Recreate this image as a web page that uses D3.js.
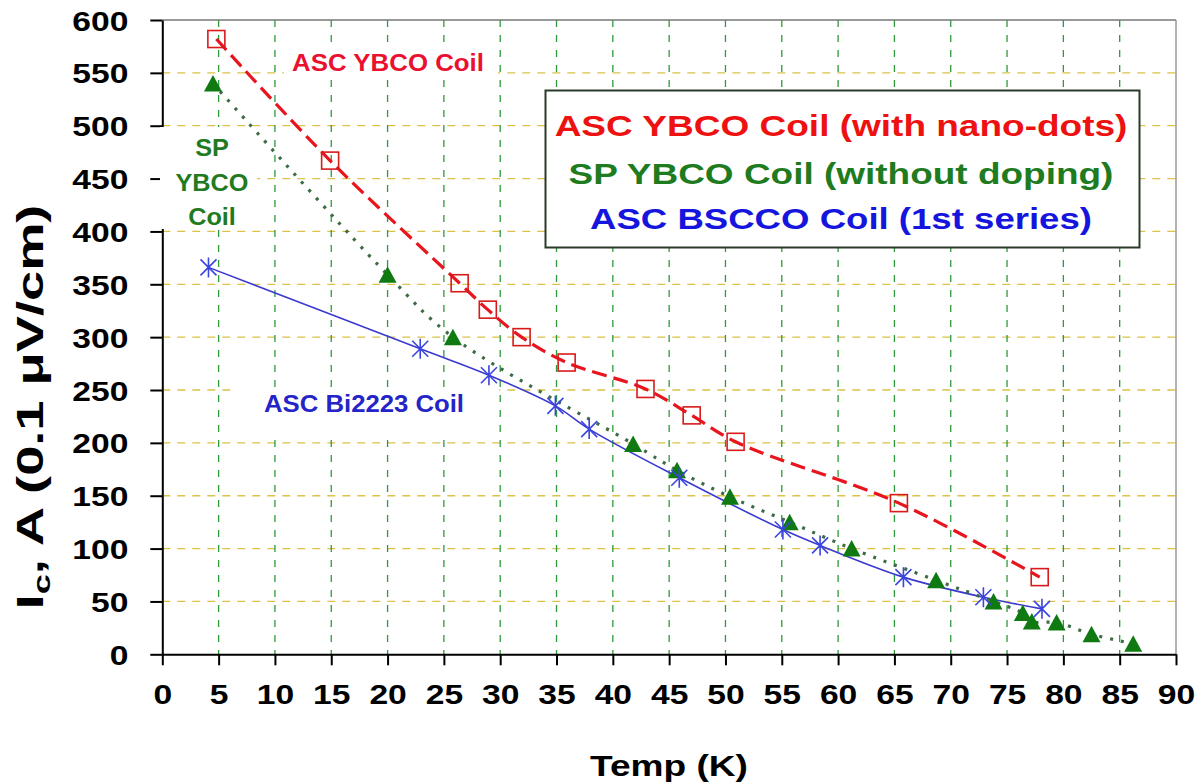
<!DOCTYPE html>
<html><head><meta charset="utf-8">
<script src="https://cdn.jsdelivr.net/npm/d3@7"></script>
<style>
body{margin:0;background:#fff}
svg{display:block}
text{font-family:"Liberation Sans", Arial, sans-serif}
</style>
</head><body><svg id="c" width="1203" height="784"></svg>
<script>
// ---- data ----
const ascYbcoTemp = [4.8, 14.9, 26.4, 28.9, 31.9, 35.9, 42.9, 47.0, 50.9, 65.4, 77.9];
const ascYbcoIc   = [582, 467, 351, 326, 300, 276, 251, 226, 201, 143, 73];
const spYbcoTemp  = [4.5, 20.0, 25.8, 41.8, 45.7, 50.4, 55.7, 61.2, 68.7, 73.8, 76.4, 77.2, 79.4, 82.5, 86.2];
const spYbcoIc    = [540, 359, 300, 199, 174, 149, 125, 100, 70, 50, 39, 31, 30, 19, 10];
const bsccoTemp   = [4.1, 22.9, 29.0, 34.9, 37.9, 45.9, 55.1, 58.4, 65.8, 72.9, 78.1];
const bsccoIc     = [366, 289, 264, 235, 213, 167, 118, 103, 73, 54, 43];
const xTickValues = [0,5,10,15,20,25,30,35,40,45,50,55,60,65,70,75,80,85,90];
const yTickValues = [0,50,100,150,200,250,300,350,400,450,500,550,600];
const legendLabels = ["ASC YBCO Coil (with nano-dots)", "SP YBCO Coil (without doping)", "ASC BSCCO Coil (1st series)"];
const xTitle = "Temp (K)";

const svg = d3.select("#c");
const x = d3.scaleLinear().domain([0, 90]).range([162.3, 1176]);
const y = d3.scaleLinear().domain([0, 600]).range([654.3, 20]);
const SX = 1.2;

function fitText(g, str, cx, base, width, size, color) {
  const t = g.append("text").text(str).attr("font-size", size).attr("font-weight", "bold")
    .attr("fill", color).attr("text-anchor", "middle");
  const w = t.node().getComputedTextLength();
  t.attr("transform", `translate(${cx},${base}) scale(${width / w},1)`);
  return width / w;
}

// grid
const grid = svg.append("g");
grid.selectAll("line.h").data(yTickValues.filter(v => v > 0 && v < 600)).join("line")
  .attr("x1", x(0)).attr("x2", x(90)).attr("y1", d => y(d)).attr("y2", d => y(d))
  .attr("stroke", "#dcc24a").attr("stroke-width", 1.3).attr("stroke-dasharray", "8,7");
grid.selectAll("line.v").data(xTickValues.filter(v => v > 0 && v < 90)).join("line")
  .attr("x1", d => x(d)).attr("x2", d => x(d)).attr("y1", y(600)).attr("y2", y(0))
  .attr("stroke", "#2f9a3a").attr("stroke-width", 1.3).attr("stroke-dasharray", "7,8");

// frame (top / right)
svg.append("line").attr("x1", x(0)).attr("x2", x(90)).attr("y1", y(600)).attr("y2", y(600))
  .attr("stroke", "#777").attr("stroke-width", 1.5);
svg.append("line").attr("x1", x(90)).attr("x2", x(90)).attr("y1", y(600)).attr("y2", y(0))
  .attr("stroke", "#999").attr("stroke-width", 1.5);

// axes
const xAxis = svg.append("g").attr("transform", `translate(0,${y(0)})`)
  .call(d3.axisBottom(x).tickValues(xTickValues).tickSize(11).tickSizeOuter(0).tickPadding(20).tickFormat(d3.format("d")));
const yAxis = svg.append("g").attr("transform", `translate(${x(0)},0)`)
  .call(d3.axisLeft(y).tickValues(yTickValues).tickSize(12).tickSizeOuter(0).tickFormat(d3.format("d")));
[xAxis, yAxis].forEach(a => {
  a.select(".domain").attr("stroke", "#000").attr("stroke-width", 2);
  a.selectAll(".tick line").attr("stroke", "#000").attr("stroke-width", 2);
  a.selectAll(".tick text").attr("font-size", 28).attr("font-weight", "bold").attr("fill", "#000")
    .attr("font-family", '"Liberation Sans", Arial, sans-serif');
});
xAxis.selectAll(".tick text").attr("y", 50).attr("dy", null).attr("transform", `scale(${SX},1)`);
yAxis.selectAll(".tick text").attr("x", -34 / SX).attr("dy", "0.36em").attr("transform", `scale(${SX},1)`);

// white annotation boxes
const boxes = [[160, 127, 97, 102], [284, 42, 214, 38], [237, 388, 262, 48]];
svg.selectAll("rect.box").data(boxes).join("rect")
  .attr("x", d => d[0]).attr("y", d => d[1]).attr("width", d => d[2]).attr("height", d => d[3])
  .attr("fill", "#fff");

// series
const curve = d3.curveCatmullRom.alpha(0.5);
const line = d3.line().x(d => x(d[0])).y(d => y(d[1])).curve(curve);
const red = d3.zip(ascYbcoTemp, ascYbcoIc);
const green = d3.zip(spYbcoTemp, spYbcoIc);
const blue = d3.zip(bsccoTemp, bsccoIc);

svg.append("path").datum(blue).attr("d", line).attr("fill", "none")
  .attr("stroke", "#3a3ad0").attr("stroke-width", 1.6);
svg.append("path").datum(green).attr("d", line).attr("fill", "none")
  .attr("stroke", "#3c6b45").attr("stroke-width", 3.2).attr("stroke-dasharray", "3,8");
svg.append("path").datum(red).attr("d", line).attr("fill", "none")
  .attr("stroke", "#e8141e").attr("stroke-width", 3.2).attr("stroke-dasharray", "15,7");

// markers
svg.selectAll("rect.sq").data(red).join("rect")
  .attr("x", d => x(d[0]) - 8.5).attr("y", d => y(d[1]) - 8.5).attr("width", 17).attr("height", 17)
  .attr("fill", "none").attr("stroke", "#d91a1a").attr("stroke-width", 1.6);
svg.selectAll("path.tri").data(green).join("path")
  .attr("transform", d => `translate(${x(d[0])},${y(d[1])})`)
  .attr("d", "M0,-8.5L9,8L-9,8Z").attr("fill", "#0f7a12");
svg.selectAll("path.ast").data(blue).join("path")
  .attr("transform", d => `translate(${x(d[0])},${y(d[1])})`)
  .attr("d", "M-8,-8L8,8M-8,8L8,-8M0,-10V10").attr("stroke", "#3a44e0").attr("stroke-width", 1.6).attr("fill", "none");

// annotations
const ann = svg.append("g");
fitText(ann, "ASC YBCO Coil", 388, 71, 192, 23, "#ea1030");
const s = fitText(ann, "YBCO", 212, 191, 73, 23, "#1f7a22");
[["SP", 156], ["Coil", 224.5]].forEach(([t, b]) => {
  ann.append("text").text(t).attr("font-size", 23).attr("font-weight", "bold")
    .attr("fill", "#1f7a22").attr("text-anchor", "middle")
    .attr("transform", `translate(212,${b}) scale(${s},1)`);
});
fitText(ann, "ASC Bi2223 Coil", 364, 412, 200, 24, "#2424c8");

// legend
const lg = svg.append("g");
lg.append("rect").attr("x", 545.5).attr("y", 90.5).attr("width", 594).attr("height", 157)
  .attr("fill", "#fff").attr("stroke", "#2a3a2a").attr("stroke-width", 2);
const legendColors = ["#ee1111", "#1e7b1e", "#1515dd"];
const legendWidths = [573, 545, 502];
const legendBase = [136, 184, 229];
legendLabels.forEach((t, i) => fitText(lg, t, 841, legendBase[i], legendWidths[i], 29, legendColors[i]));

// axis titles
fitText(svg, xTitle, 669, 776, 158, 30, "#000");
const yt = svg.append("text").attr("font-size", 36).attr("font-weight", "bold").attr("fill", "#000")
  .attr("text-anchor", "middle").attr("y", 13);
yt.append("tspan").text("I");
yt.append("tspan").text("c").attr("font-size", 24).attr("dy", 7);
yt.append("tspan").text(", A (0.1 \u03bcV/cm)").attr("dy", -7);
const yw = yt.node().getComputedTextLength();
yt.attr("transform", `translate(30,407) rotate(-90) scale(${405 / yw},1)`);
</script>
</body></html>
